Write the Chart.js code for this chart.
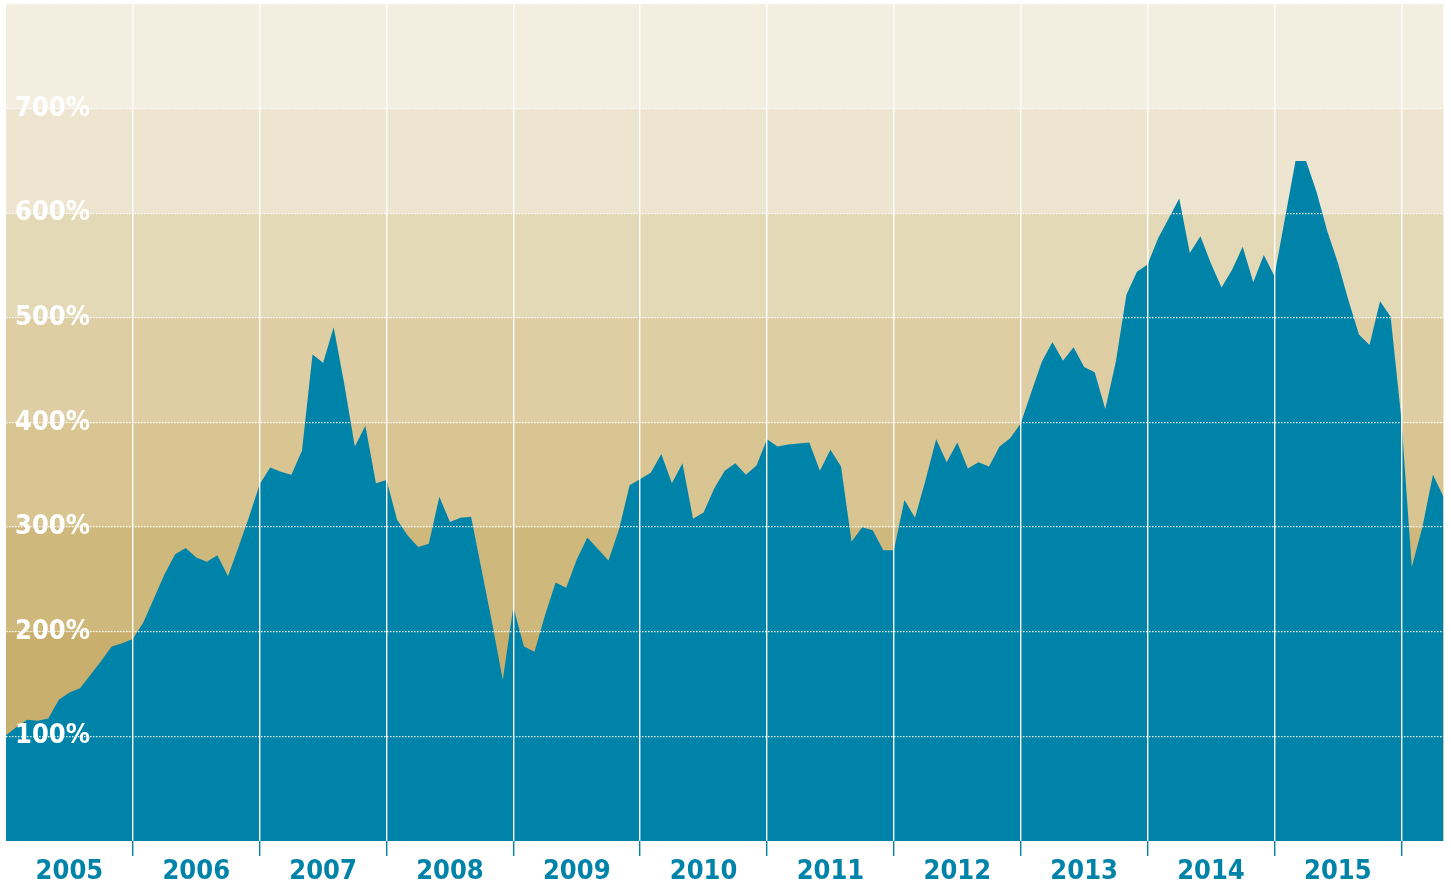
<!DOCTYPE html>
<html>
<head>
<meta charset="utf-8">
<script src="https://cdn.jsdelivr.net/npm/chart.js@4/dist/chart.umd.min.js"></script>
<style>
  html, body { margin: 0; padding: 0; background: #fff; }
  canvas { display: block; }
</style>
</head>
<body>
<canvas id="returnChart" width="1451" height="887"></canvas>
<script>
const years = ['2005', '2006', '2007', '2008', '2009', '2010', '2011', '2012', '2013', '2014', '2015', '2016'];

// monthly cumulative return in %, one array per year
const r2005 = [101, 109, 116, 115, 117, 135, 142, 146, 159, 172, 186, 189];
const r2006 = [193, 209, 232, 255, 274, 280, 271, 267, 273, 253, 281, 310];
const r2007 = [341, 357, 353, 350, 373, 465, 457, 491, 437, 377, 397, 342];
const r2008 = [345, 307, 292, 281, 284, 329, 305, 309, 310, 259, 208, 154];
const r2009 = [224, 186, 181, 216, 247, 242, 269, 290, 279, 268, 298, 340];
const r2010 = [346, 352, 370, 342, 361, 308, 314, 337, 354, 361, 350, 359];
const r2011 = [384, 377, 379, 380, 381, 354, 374, 358, 286, 300, 297, 278];
const r2012 = [278, 326, 309, 345, 384, 362, 381, 356, 362, 358, 377, 385];
const r2013 = [399, 429, 458, 477, 459, 472, 453, 448, 413, 458, 522, 544];
const r2014 = [551, 576, 595, 614, 562, 578, 552, 529, 546, 568, 534, 560];
const r2015 = [540, 595, 650, 650, 620, 583, 553, 517, 484, 474, 516, 501];
const r2016 = [405, 262, 300, 350, 329];

const yLabels = [100, 200, 300, 400, 500, 600, 700];

// background bands, from 0-100% up to 700-800%
const bandColors = ['#C4A862', '#C9AF6D', '#CFB87C', '#D8C591', '#DFCEA3', '#E3D9B7', '#EDE5D0', '#F4EEE1'];

const values = [...r2005, ...r2006, ...r2007, ...r2008, ...r2009, ...r2010,
                ...r2011, ...r2012, ...r2013, ...r2014, ...r2015, ...r2016];

const monthLabels = [];
years.forEach(y => {
    for (let m = 1; m <= 12; m++) monthLabels.push(`${y}-${m}`);
});
monthLabels.length = values.length;

const teal = '#0083A9';
const font = { family: "'DejaVu Sans Condensed', 'Liberation Sans Narrow', sans-serif", size: 27, weight: 'bold' };

const isYearStart = i => i > 0 && i % 12 === 0;

const bandPlugin = {
    id: 'bands',
    beforeDraw(chart) {
        const { ctx, chartArea, scales: { y } } = chart;
        ctx.save();
        bandColors.forEach((color, i) => {
            const top = y.getPixelForValue((i + 1) * 100);
            const bottom = y.getPixelForValue(i * 100);
            ctx.fillStyle = color;
            ctx.fillRect(chartArea.left, top, chartArea.right - chartArea.left, bottom - top);
        });
        ctx.restore();
    }
};

new Chart(document.getElementById('returnChart').getContext('2d'), {
    type: 'line',
    data: {
        labels: monthLabels,
        datasets: [{
            data: values,
            fill: 'origin',
            backgroundColor: teal,
            borderWidth: 0,
            pointRadius: 0,
            tension: 0
        }]
    },
    options: {
        responsive: false,
        animation: false,
        layout: { padding: { left: 6, right: 7.5, top: 4, bottom: 0 } },
        plugins: {
            legend: { display: false },
            tooltip: { enabled: false }
        },
        scales: {
            x: {
                type: 'category',
                offset: false,
                border: { display: false },
                grid: {
                    z: 1,
                    offset: false,
                    color: ctx => isYearStart(ctx.index) ? '#ffffff' : 'transparent',
                    tickColor: ctx => isYearStart(ctx.index) ? teal : 'transparent',
                    lineWidth: 1.4,
                    tickWidth: 1.4,
                    tickLength: 15
                },
                ticks: {
                    z: 1,
                    autoSkip: false,
                    maxRotation: 0,
                    minRotation: 0,
                    padding: 0,
                    color: teal,
                    font: font,
                    callback: (v, i) => i % 12 === 6 ? years[Math.floor(i / 12)] : ''
                },
                afterFit: s => { s.height = 46; s.paddingLeft = 0; s.paddingRight = 0; }
            },
            y: {
                min: 0,
                max: 800,
                border: { display: false, dash: [1.5, 1.5] },
                grid: {
                    z: 1,
                    color: ctx => ctx.tick.value === 0 ? 'transparent' : 'rgba(255,255,255,0.9)',
                    lineWidth: 1.3,
                    drawTicks: false
                },
                ticks: {
                    z: 1,
                    stepSize: 100,
                    mirror: true,
                    padding: 9,
                    color: '#ffffff',
                    font: font,
                    callback: v => yLabels.includes(v) ? v + '%' : ''
                },
                afterFit: s => { s.width = 0; s.paddingTop = 0; s.paddingBottom = 0; }
            }
        }
    },
    plugins: [bandPlugin]
});
</script>
</body>
</html>
